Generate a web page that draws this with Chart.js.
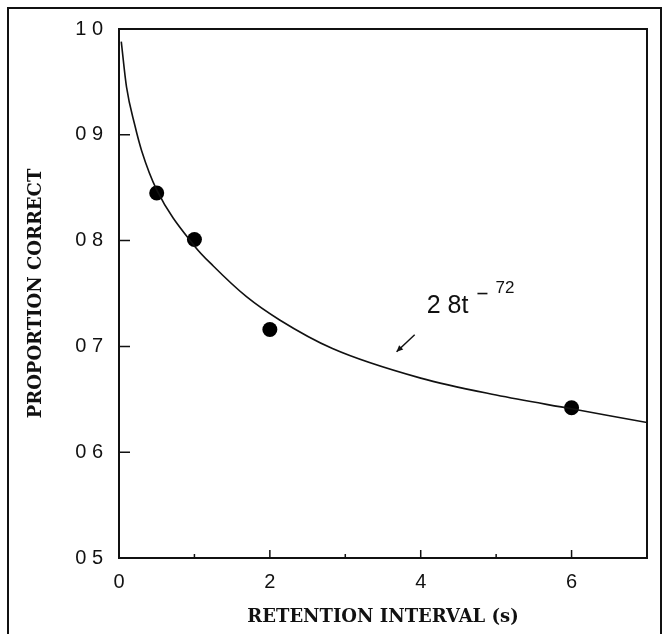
<!DOCTYPE html>
<html>
<head>
<meta charset="utf-8">
<script src="https://cdn.jsdelivr.net/npm/chart.js@4.4.1/dist/chart.umd.min.js"></script>
<style>
    body { margin: 0; background: #fff; }
    #wrap { position: relative; width: 662px; height: 634px; overflow: hidden; }
    #outerFrame {
        position: absolute; left: 7px; top: 7px; width: 655px; height: 660px;
        border: 2px solid #111; box-sizing: border-box;
    }
    #myChart { position: absolute; left: 0; top: 0; }
</style>
</head>
<body>
<div id="wrap">
    <div id="outerFrame"></div>
    <canvas id="myChart" width="662" height="634"></canvas>
</div>
<script>
// observed data points (retention interval in s, proportion correct)
const pointT = [0.5, 1, 2, 6];
const pointP = [0.845, 0.801, 0.716, 0.642];

// fitted curve
const curveT = [0.03, 0.1, 0.21, 0.3, 0.5, 1.0, 1.25, 1.69, 2.13, 2.83, 4, 5, 6, 7];
const curveP = [0.988, 0.945, 0.909, 0.885, 0.848, 0.795, 0.776, 0.747, 0.725, 0.698, 0.670, 0.654, 0.641, 0.628];

const xTickLabels = ["0", "", "2", "", "4", "", "6", ""];
const yTickLabels = ["0 5", "0 6", "0 7", "0 8", "0 9", "1 0"];

const xTitle = "RETENTION INTERVAL (s)";
const yTitle = "PROPORTION CORRECT";
const annoMain = "2 8t";
const annoSup = "72";

const ink = "#111";
const tickFont = "Liberation Sans, Arial, sans-serif";
const titleFont = "DejaVu Serif, serif";

// frame round the plot plus the small inward ticks
const framePlugin = {
    id: "framePlugin",
    afterDatasetsDraw(chart) {
        const ctx = chart.ctx;
        const area = chart.chartArea;
        const xs = chart.scales.x;
        const ys = chart.scales.y;
        ctx.save();
        ctx.strokeStyle = ink;
        ctx.lineWidth = 2;
        ctx.strokeRect(area.left, area.top, area.right - area.left, area.bottom - area.top);

        ctx.lineWidth = 1.5;
        ctx.beginPath();
        xs.ticks.forEach((t, i) => {
            const px = xs.getPixelForValue(t.value);
            const len = (i % 2 == 0) ? 8 : 4; // labelled ticks are longer
            ctx.moveTo(px, area.bottom);
            ctx.lineTo(px, area.bottom - len);
        });
        ys.ticks.forEach(t => {
            const py = ys.getPixelForValue(t.value);
            ctx.moveTo(area.left, py);
            ctx.lineTo(area.left + 11, py);
        });
        ctx.stroke();
        ctx.restore();
    },
    afterDraw(chart) {
        const ctx = chart.ctx;
        const xs = chart.scales.x;
        const ys = chart.scales.y;
        ctx.save();
        ctx.fillStyle = ink;
        ctx.strokeStyle = ink;

        // equation label
        const x0 = xs.getPixelForValue(4.08);
        const y0 = ys.getPixelForValue(0.732);
        ctx.font = "25px " + tickFont;
        ctx.textBaseline = "alphabetic";
        ctx.fillText(annoMain, x0, y0);
        const w = ctx.measureText(annoMain).width;
        ctx.lineWidth = 1.6;
        ctx.beginPath();
        ctx.moveTo(x0 + w + 9, y0 - 19);
        ctx.lineTo(x0 + w + 19, y0 - 19);
        ctx.stroke();
        ctx.font = "17px " + tickFont;
        ctx.fillText(annoSup, x0 + w + 27, y0 - 20);

        // arrow pointing at the curve
        const ax1 = xs.getPixelForValue(3.92), ay1 = ys.getPixelForValue(0.711);
        const ax2 = xs.getPixelForValue(3.68), ay2 = ys.getPixelForValue(0.695);
        ctx.lineWidth = 1.5;
        ctx.beginPath();
        ctx.moveTo(ax1, ay1);
        ctx.lineTo(ax2, ay2);
        ctx.stroke();
        const ang = Math.atan2(ay2 - ay1, ax2 - ax1);
        ctx.beginPath();
        ctx.moveTo(ax2, ay2);
        ctx.lineTo(ax2 - 7 * Math.cos(ang - 0.45), ay2 - 7 * Math.sin(ang - 0.45));
        ctx.lineTo(ax2 - 7 * Math.cos(ang + 0.45), ay2 - 7 * Math.sin(ang + 0.45));
        ctx.closePath();
        ctx.fill();
        ctx.restore();
    }
};

const data = {
    datasets: [{
        type: "line",
        data: curveT.map((t, i) => ({x: t, y: curveP[i]})),
        borderColor: ink,
        borderWidth: 1.6,
        pointRadius: 0,
        cubicInterpolationMode: "monotone",
        fill: false
    }, {
        type: "scatter",
        data: pointT.map((t, i) => ({x: t, y: pointP[i]})),
        backgroundColor: "#000",
        borderWidth: 0,
        pointRadius: 7.5
    }]
};

const config = {
    type: "scatter",
    data: data,
    plugins: [framePlugin],
    options: {
        responsive: false,
        animation: false,
        layout: {padding: {left: 22, right: 15, top: 29, bottom: 2}},
        plugins: {legend: {display: false}, tooltip: {enabled: false}},
        scales: {
            x: {
                type: "linear",
                min: 0,
                max: 7,
                border: {display: false},
                grid: {display: false, drawTicks: false},
                ticks: {
                    stepSize: 1,
                    autoSkip: false,
                    maxRotation: 0,
                    padding: 12,
                    color: ink,
                    font: {family: tickFont, size: 20},
                    callback: (v, i) => xTickLabels[i]
                },
                title: {
                    display: true,
                    text: xTitle,
                    color: ink,
                    font: {family: titleFont, size: 18, weight: "bold"},
                    padding: {top: 6}
                },
                afterFit: scale => { scale.height = 74; }
            },
            y: {
                type: "linear",
                min: 0.5,
                max: 1.0,
                border: {display: false},
                grid: {display: false, drawTicks: false},
                ticks: {
                    stepSize: 0.1,
                    padding: 16,
                    color: ink,
                    font: {family: tickFont, size: 20},
                    callback: (v, i) => yTickLabels[i]
                },
                title: {
                    display: true,
                    text: yTitle,
                    color: ink,
                    font: {family: titleFont, size: 18, weight: "bold"},
                    padding: {bottom: 0}
                },
                afterFit: scale => { scale.width = 97; }
            }
        }
    }
};

const myChart = new Chart(document.getElementById("myChart"), config);
</script>
</body>
</html>
